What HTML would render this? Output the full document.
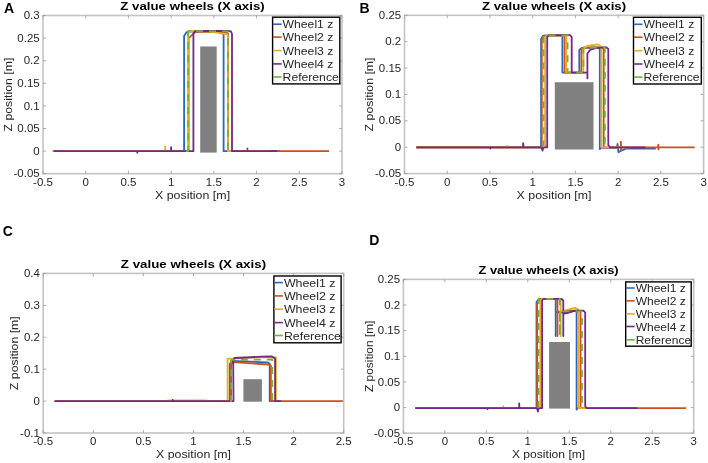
<!DOCTYPE html><html><head><meta charset="utf-8"><style>html,body{margin:0;padding:0;background:#fff;}svg{display:block;will-change:transform;}text{font-family:"Liberation Sans",sans-serif;}</style></head><body>
<svg width="708" height="463" viewBox="0 0 708 463">
<rect x="0" y="0" width="708" height="463" fill="#fff"/>
<rect x="200.2" y="46.5" width="16.5" height="106.1" fill="#808080"/>
<polyline points="53,151.2 184.1,151.2 184.1,36 186.7,32.1 190,31.3 220,31.8 223.6,34.3 223.6,151.2 247.4,151.2 247.4,148.5 247.6,151.2 280,151.2" fill="none" stroke="#2a66bf" stroke-width="1.8" stroke-linejoin="round" stroke-linecap="butt"/>
<polyline points="53,151.2 188.6,151.2 188.6,38.1 195.3,32.1 200,31.5 226,32 228,34 228,151.2 329,151.2" fill="none" stroke="#cc5018" stroke-width="1.8" stroke-linejoin="round" stroke-linecap="butt"/>
<polyline points="52.4,151.2 165.2,151.2 165.2,146.4 165.4,151.2 188.1,151.2 188.1,31.2 190,30.8 210,31.7 227.3,34.3 227.9,36 227.9,151.2 270,151.2" fill="none" stroke="#e6ae24" stroke-width="1.8" stroke-linejoin="round" stroke-linecap="butt"/>
<polyline points="53.6,151.2 137.3,151.2 137.3,152.8 137.5,151.2 171.1,151.2 171.1,147.1 171.3,151.2 193.4,151.2 193.4,33.5 195,31.2 198,31 228,30.8 231,31.5 232,34 232,151.2 277,151.2" fill="none" stroke="#72278a" stroke-width="1.8" stroke-linejoin="round" stroke-linecap="butt"/>
<polyline points="186,151.2 188.1,151.2 188.1,31.2 190,31 227.9,31.5 227.9,151.2 229,151.2" fill="none" stroke="#77b034" stroke-width="1.8" stroke-linejoin="round" stroke-linecap="butt" stroke-dasharray="7,6"/>
<rect x="43" y="15.5" width="299" height="158.2" fill="none" stroke="#c4c4c4" stroke-width="1.6"/>
<path d="M43,173.7v-3M43,15.5v3M85.71,173.7v-3M85.71,15.5v3M128.43,173.7v-3M128.43,15.5v3M171.14,173.7v-3M171.14,15.5v3M213.86,173.7v-3M213.86,15.5v3M256.57,173.7v-3M256.57,15.5v3M299.29,173.7v-3M299.29,15.5v3M342,173.7v-3M342,15.5v3M43,173.7h3M342,173.7h-3M43,151.1h3M342,151.1h-3M43,128.5h3M342,128.5h-3M43,105.9h3M342,105.9h-3M43,83.3h3M342,83.3h-3M43,60.7h3M342,60.7h-3M43,38.1h3M342,38.1h-3M43,15.5h3M342,15.5h-3" stroke="#9a9a9a" stroke-width="0.8" fill="none"/>
<text transform="translate(43,185.7) scale(1.1500,1)" font-size="10" fill="#262626" text-anchor="middle">-0.5</text>
<text transform="translate(85.71,185.7) scale(1.1500,1)" font-size="10" fill="#262626" text-anchor="middle">0</text>
<text transform="translate(128.43,185.7) scale(1.1500,1)" font-size="10" fill="#262626" text-anchor="middle">0.5</text>
<text transform="translate(171.14,185.7) scale(1.1500,1)" font-size="10" fill="#262626" text-anchor="middle">1</text>
<text transform="translate(213.86,185.7) scale(1.1500,1)" font-size="10" fill="#262626" text-anchor="middle">1.5</text>
<text transform="translate(256.57,185.7) scale(1.1500,1)" font-size="10" fill="#262626" text-anchor="middle">2</text>
<text transform="translate(299.29,185.7) scale(1.1500,1)" font-size="10" fill="#262626" text-anchor="middle">2.5</text>
<text transform="translate(342,185.7) scale(1.1500,1)" font-size="10" fill="#262626" text-anchor="middle">3</text>
<text transform="translate(39.7,177.3) scale(1.1500,1)" font-size="10" fill="#262626" text-anchor="end">-0.05</text>
<text transform="translate(39.7,154.7) scale(1.1500,1)" font-size="10" fill="#262626" text-anchor="end">0</text>
<text transform="translate(39.7,132.1) scale(1.1500,1)" font-size="10" fill="#262626" text-anchor="end">0.05</text>
<text transform="translate(39.7,109.5) scale(1.1500,1)" font-size="10" fill="#262626" text-anchor="end">0.1</text>
<text transform="translate(39.7,86.9) scale(1.1500,1)" font-size="10" fill="#262626" text-anchor="end">0.15</text>
<text transform="translate(39.7,64.3) scale(1.1500,1)" font-size="10" fill="#262626" text-anchor="end">0.2</text>
<text transform="translate(39.7,41.7) scale(1.1500,1)" font-size="10" fill="#262626" text-anchor="end">0.25</text>
<text transform="translate(39.7,19.1) scale(1.1500,1)" font-size="10" fill="#262626" text-anchor="end">0.3</text>
<text transform="translate(192.5,10.2) scale(1.2067,1)" font-size="11" font-weight="bold" fill="#000" text-anchor="middle">Z value wheels (X axis)</text>
<text transform="translate(192.5,198.6) scale(1.1825,1)" font-size="10.5" fill="#262626" text-anchor="middle">X position [m]</text>
<text transform="translate(11.7,94.6) rotate(-90) scale(1.1730,1)" font-size="10.5" fill="#262626" text-anchor="middle">Z position [m]</text>
<rect x="272.6" y="17.2" width="67.2" height="66.7" fill="#fff" stroke="#000" stroke-width="1.4"/>
<line x1="273.1" y1="24.2" x2="281.6" y2="24.2" stroke="#2a66bf" stroke-width="1.6"/>
<text transform="translate(282.6,28.2) scale(1.1600,1)" font-size="10.5" fill="#262626" text-anchor="start">Wheel1 z</text>
<line x1="273.1" y1="37.1" x2="281.6" y2="37.1" stroke="#cc5018" stroke-width="1.6"/>
<text transform="translate(282.6,41.1) scale(1.1600,1)" font-size="10.5" fill="#262626" text-anchor="start">Wheel2 z</text>
<line x1="273.1" y1="50.6" x2="281.6" y2="50.6" stroke="#e6ae24" stroke-width="1.6"/>
<text transform="translate(282.6,54.6) scale(1.1600,1)" font-size="10.5" fill="#262626" text-anchor="start">Wheel3 z</text>
<line x1="273.1" y1="63.9" x2="281.6" y2="63.9" stroke="#72278a" stroke-width="1.6"/>
<text transform="translate(282.6,67.9) scale(1.1600,1)" font-size="10.5" fill="#262626" text-anchor="start">Wheel4 z</text>
<line x1="273.1" y1="77" x2="281.6" y2="77" stroke="#77b034" stroke-width="1.6"/>
<text transform="translate(282.6,81) scale(1.1600,1)" font-size="10.5" fill="#262626" text-anchor="start">Reference</text>
<text x="4.1" y="12.9" font-size="14" font-weight="bold" fill="#000">A</text>
<rect x="554.8" y="82.2" width="38.7" height="67.3" fill="#808080"/>
<polyline points="416.3,147.3 541.1,147.3 541.1,39 543,35.6 562.4,35.5 562.4,72.6 579.3,72.6 579.3,50 582,47.8 598,47.5 599.8,49 599.8,149 601,147.8 617,147.8 617.5,144 618.5,152.3 620.5,151 626,148.6 655.8,148.6" fill="none" stroke="#2a66bf" stroke-width="1.8" stroke-linejoin="round" stroke-linecap="butt"/>
<polyline points="416.3,147.3 541.8,147.3 541.8,39.9 543.6,36.5 545,35.6 564.6,35.6 564.6,72.6 581.4,72.6 581.4,49 584,47.6 602,47.5 603.7,49 603.7,147.3 620.9,147.3 620.9,141.7 621,149.8 621.2,147.3 658.3,147.3 658.3,144.7 658.5,149.4 658.7,147.3 694.7,147.3" fill="none" stroke="#cc5018" stroke-width="1.8" stroke-linejoin="round" stroke-linecap="butt"/>
<polyline points="416.3,147.3 506.8,147.3 506.8,146 507.5,147.3 523.2,147.3 523.2,142.8 523.4,147.3 545.1,147.3 545.1,37 547,35.4 566.3,35.4 566.3,72.6 583.4,72.6 583.4,49 587,46 597.4,44.5 600,45.5 601.4,48 601.4,147.3 630,147.3" fill="none" stroke="#e6ae24" stroke-width="1.8" stroke-linejoin="round" stroke-linecap="butt"/>
<polyline points="416.3,147.3 490.4,147.3 490.4,148.6 490.6,147.3 523.2,147.3 523.2,143.5 523.4,147.3 541.5,147.3 542.5,150.6 543.5,147.3 547.2,147.3 547.2,37 549,35.2 570,35.2 571.7,37 571.7,72.6 587.4,72.6 587.4,78.4 587.4,53.5 590,50 595.4,48.1 606,47.1 608.3,49 608.3,145 610,147.3 645.5,147.3" fill="none" stroke="#72278a" stroke-width="1.8" stroke-linejoin="round" stroke-linecap="butt"/>
<polyline points="543.5,147.3 543.5,35.3 567.6,35.3 567.6,72.6 583.4,72.6 583.4,47.5 604.9,47.5 604.9,147.3 606,147.3" fill="none" stroke="#77b034" stroke-width="1.8" stroke-linejoin="round" stroke-linecap="butt" stroke-dasharray="7,6"/>
<rect x="404.5" y="15.3" width="299.1" height="158.3" fill="none" stroke="#c4c4c4" stroke-width="1.6"/>
<path d="M404.5,173.6v-3M404.5,15.3v3M447.23,173.6v-3M447.23,15.3v3M489.96,173.6v-3M489.96,15.3v3M532.69,173.6v-3M532.69,15.3v3M575.41,173.6v-3M575.41,15.3v3M618.14,173.6v-3M618.14,15.3v3M660.87,173.6v-3M660.87,15.3v3M703.6,173.6v-3M703.6,15.3v3M404.5,173.6h3M703.6,173.6h-3M404.5,147.22h3M703.6,147.22h-3M404.5,120.83h3M703.6,120.83h-3M404.5,94.45h3M703.6,94.45h-3M404.5,68.07h3M703.6,68.07h-3M404.5,41.68h3M703.6,41.68h-3M404.5,15.3h3M703.6,15.3h-3" stroke="#9a9a9a" stroke-width="0.8" fill="none"/>
<text transform="translate(404.5,185.6) scale(1.1500,1)" font-size="10" fill="#262626" text-anchor="middle">-0.5</text>
<text transform="translate(447.23,185.6) scale(1.1500,1)" font-size="10" fill="#262626" text-anchor="middle">0</text>
<text transform="translate(489.96,185.6) scale(1.1500,1)" font-size="10" fill="#262626" text-anchor="middle">0.5</text>
<text transform="translate(532.69,185.6) scale(1.1500,1)" font-size="10" fill="#262626" text-anchor="middle">1</text>
<text transform="translate(575.41,185.6) scale(1.1500,1)" font-size="10" fill="#262626" text-anchor="middle">1.5</text>
<text transform="translate(618.14,185.6) scale(1.1500,1)" font-size="10" fill="#262626" text-anchor="middle">2</text>
<text transform="translate(660.87,185.6) scale(1.1500,1)" font-size="10" fill="#262626" text-anchor="middle">2.5</text>
<text transform="translate(703.6,185.6) scale(1.1500,1)" font-size="10" fill="#262626" text-anchor="middle">3</text>
<text transform="translate(401.2,177.2) scale(1.1500,1)" font-size="10" fill="#262626" text-anchor="end">-0.05</text>
<text transform="translate(401.2,150.82) scale(1.1500,1)" font-size="10" fill="#262626" text-anchor="end">0</text>
<text transform="translate(401.2,124.43) scale(1.1500,1)" font-size="10" fill="#262626" text-anchor="end">0.05</text>
<text transform="translate(401.2,98.05) scale(1.1500,1)" font-size="10" fill="#262626" text-anchor="end">0.1</text>
<text transform="translate(401.2,71.67) scale(1.1500,1)" font-size="10" fill="#262626" text-anchor="end">0.15</text>
<text transform="translate(401.2,45.28) scale(1.1500,1)" font-size="10" fill="#262626" text-anchor="end">0.2</text>
<text transform="translate(401.2,18.9) scale(1.1500,1)" font-size="10" fill="#262626" text-anchor="end">0.25</text>
<text transform="translate(554.05,9.9) scale(1.2050,1)" font-size="11" font-weight="bold" fill="#000" text-anchor="middle">Z value wheels (X axis)</text>
<text transform="translate(554.05,198.6) scale(1.1778,1)" font-size="10.5" fill="#262626" text-anchor="middle">X position [m]</text>
<text transform="translate(373.2,94.45) rotate(-90) scale(1.1730,1)" font-size="10.5" fill="#262626" text-anchor="middle">Z position [m]</text>
<rect x="633.5" y="17.3" width="67.8" height="66.7" fill="#fff" stroke="#000" stroke-width="1.4"/>
<line x1="634" y1="24.3" x2="642.5" y2="24.3" stroke="#2a66bf" stroke-width="1.6"/>
<text transform="translate(643.5,28.3) scale(1.1600,1)" font-size="10.5" fill="#262626" text-anchor="start">Wheel1 z</text>
<line x1="634" y1="37.2" x2="642.5" y2="37.2" stroke="#cc5018" stroke-width="1.6"/>
<text transform="translate(643.5,41.2) scale(1.1600,1)" font-size="10.5" fill="#262626" text-anchor="start">Wheel2 z</text>
<line x1="634" y1="50.7" x2="642.5" y2="50.7" stroke="#e6ae24" stroke-width="1.6"/>
<text transform="translate(643.5,54.7) scale(1.1600,1)" font-size="10.5" fill="#262626" text-anchor="start">Wheel3 z</text>
<line x1="634" y1="64" x2="642.5" y2="64" stroke="#72278a" stroke-width="1.6"/>
<text transform="translate(643.5,68) scale(1.1600,1)" font-size="10.5" fill="#262626" text-anchor="start">Wheel4 z</text>
<line x1="634" y1="77.1" x2="642.5" y2="77.1" stroke="#77b034" stroke-width="1.6"/>
<text transform="translate(643.5,81.1) scale(1.1600,1)" font-size="10.5" fill="#262626" text-anchor="start">Reference</text>
<text x="359.4" y="13" font-size="14" font-weight="bold" fill="#000">B</text>
<rect x="243.4" y="379.2" width="18.5" height="22.5" fill="#808080"/>
<polyline points="54.7,401.1 229.8,401.1 229.8,364 232,360.8 268,362.5 269.7,364 269.7,401.1 280,401.1" fill="none" stroke="#2a66bf" stroke-width="1.8" stroke-linejoin="round" stroke-linecap="butt"/>
<polyline points="54.7,401.1 231.1,401.1 231.1,364 233,362.1 268,364.5 270.9,365.5 270.9,401.1 343,401.1" fill="none" stroke="#cc5018" stroke-width="1.8" stroke-linejoin="round" stroke-linecap="butt"/>
<polyline points="54.7,401.1 163,401.1 170,400.5 205,400.5 211.6,401.1 227.6,401.1 227.6,358.6 233.2,358.6 262,357 275.9,357.5 275.9,401.1 281,401.1" fill="none" stroke="#e6ae24" stroke-width="1.8" stroke-linejoin="round" stroke-linecap="butt"/>
<polyline points="54.7,401.1 172.7,401.1 172.7,400 172.9,401.1 233.5,401.1 233.2,360 234.5,358 262,356.7 272,356.5 275.1,358.5 275.1,401.1 281.1,401.1" fill="none" stroke="#72278a" stroke-width="1.8" stroke-linejoin="round" stroke-linecap="butt"/>
<polyline points="230,401.1 231.1,401.1 231.1,359.9 272.3,359.5 272.3,401.1 273.5,401.1" fill="none" stroke="#77b034" stroke-width="1.8" stroke-linejoin="round" stroke-linecap="butt" stroke-dasharray="7,6"/>
<rect x="43.2" y="273.4" width="300.5" height="159.6" fill="none" stroke="#c4c4c4" stroke-width="1.6"/>
<path d="M43.2,433v-3M43.2,273.4v3M93.28,433v-3M93.28,273.4v3M143.37,433v-3M143.37,273.4v3M193.45,433v-3M193.45,273.4v3M243.53,433v-3M243.53,273.4v3M293.62,433v-3M293.62,273.4v3M343.7,433v-3M343.7,273.4v3M43.2,433h3M343.7,433h-3M43.2,401.08h3M343.7,401.08h-3M43.2,369.16h3M343.7,369.16h-3M43.2,337.24h3M343.7,337.24h-3M43.2,305.32h3M343.7,305.32h-3M43.2,273.4h3M343.7,273.4h-3" stroke="#9a9a9a" stroke-width="0.8" fill="none"/>
<text transform="translate(43.2,445) scale(1.1500,1)" font-size="10" fill="#262626" text-anchor="middle">-0.5</text>
<text transform="translate(93.28,445) scale(1.1500,1)" font-size="10" fill="#262626" text-anchor="middle">0</text>
<text transform="translate(143.37,445) scale(1.1500,1)" font-size="10" fill="#262626" text-anchor="middle">0.5</text>
<text transform="translate(193.45,445) scale(1.1500,1)" font-size="10" fill="#262626" text-anchor="middle">1</text>
<text transform="translate(243.53,445) scale(1.1500,1)" font-size="10" fill="#262626" text-anchor="middle">1.5</text>
<text transform="translate(293.62,445) scale(1.1500,1)" font-size="10" fill="#262626" text-anchor="middle">2</text>
<text transform="translate(343.7,445) scale(1.1500,1)" font-size="10" fill="#262626" text-anchor="middle">2.5</text>
<text transform="translate(39.9,436.6) scale(1.1500,1)" font-size="10" fill="#262626" text-anchor="end">-0.1</text>
<text transform="translate(39.9,404.68) scale(1.1500,1)" font-size="10" fill="#262626" text-anchor="end">0</text>
<text transform="translate(39.9,372.76) scale(1.1500,1)" font-size="10" fill="#262626" text-anchor="end">0.1</text>
<text transform="translate(39.9,340.84) scale(1.1500,1)" font-size="10" fill="#262626" text-anchor="end">0.2</text>
<text transform="translate(39.9,308.92) scale(1.1500,1)" font-size="10" fill="#262626" text-anchor="end">0.3</text>
<text transform="translate(39.9,277) scale(1.1500,1)" font-size="10" fill="#262626" text-anchor="end">0.4</text>
<text transform="translate(193.45,268.3) scale(1.2126,1)" font-size="11" font-weight="bold" fill="#000" text-anchor="middle">Z value wheels (X axis)</text>
<text transform="translate(193.45,457.6) scale(1.1778,1)" font-size="10.5" fill="#262626" text-anchor="middle">X position [m]</text>
<text transform="translate(17.9,353.2) rotate(-90) scale(1.1730,1)" font-size="10.5" fill="#262626" text-anchor="middle">Z position [m]</text>
<rect x="273.9" y="276" width="67.2" height="66.8" fill="#fff" stroke="#000" stroke-width="1.4"/>
<line x1="274.4" y1="282.6" x2="282.9" y2="282.6" stroke="#2a66bf" stroke-width="1.6"/>
<text transform="translate(283.9,286.6) scale(1.1800,1)" font-size="10.5" fill="#262626" text-anchor="start">Wheel1 z</text>
<line x1="274.4" y1="295.9" x2="282.9" y2="295.9" stroke="#cc5018" stroke-width="1.6"/>
<text transform="translate(283.9,299.9) scale(1.1800,1)" font-size="10.5" fill="#262626" text-anchor="start">Wheel2 z</text>
<line x1="274.4" y1="309.2" x2="282.9" y2="309.2" stroke="#e6ae24" stroke-width="1.6"/>
<text transform="translate(283.9,313.2) scale(1.1800,1)" font-size="10.5" fill="#262626" text-anchor="start">Wheel3 z</text>
<line x1="274.4" y1="322.6" x2="282.9" y2="322.6" stroke="#72278a" stroke-width="1.6"/>
<text transform="translate(283.9,326.6) scale(1.1800,1)" font-size="10.5" fill="#262626" text-anchor="start">Wheel4 z</text>
<line x1="274.4" y1="335.5" x2="282.9" y2="335.5" stroke="#77b034" stroke-width="1.6"/>
<text transform="translate(283.9,339.5) scale(1.1800,1)" font-size="10.5" fill="#262626" text-anchor="start">Reference</text>
<text x="2.7" y="236" font-size="14" font-weight="bold" fill="#000">C</text>
<rect x="549.1" y="342" width="20.9" height="66.6" fill="#808080"/>
<polyline points="415.3,408.1 536.5,408.1 536.5,302 539,298.8 555.7,298.8 555.7,336 555.7,312 558,312 565,313 573.6,311 576.6,311.2 576.6,409.6 578,408.1 600,408.1" fill="none" stroke="#2a66bf" stroke-width="1.8" stroke-linejoin="round" stroke-linecap="butt"/>
<polyline points="415.3,408.1 537.1,408.1 537.1,303.8 539,300.5 542,298.8 557.5,298.8 557.5,336 557.5,311.8 565,311 574,310.6 580.5,310.8 580.5,408.1 686,408.1" fill="none" stroke="#cc5018" stroke-width="1.8" stroke-linejoin="round" stroke-linecap="butt"/>
<polyline points="415.3,408.1 503.4,408.1 503.4,406.5 503.6,408.1 540.4,408.1 540.4,300.5 542,298.8 560.7,298.8 560.7,336 560.7,311.5 570,309 575.7,308 577.9,309.3 578.5,311 578.5,408.1 600,408.1" fill="none" stroke="#e6ae24" stroke-width="1.8" stroke-linejoin="round" stroke-linecap="butt"/>
<polyline points="415.3,408.1 487.6,408.1 487.6,409.2 487.8,408.1 519.2,408.1 519.2,403.3 519.4,408.1 537,408.1 537.9,411.6 538.8,408.1 542.1,408.1 542.1,300.5 543.5,298.8 561.5,298.8 563.3,300.5 563.3,336 563.3,313.6 568,313 573.6,311 577,310.6 583.5,310.6 585.2,312.5 585.2,406 586.5,408.1 637.4,408.1" fill="none" stroke="#72278a" stroke-width="1.8" stroke-linejoin="round" stroke-linecap="butt"/>
<polyline points="538.6,408.1 538.6,298.8 559.8,298.8 559.8,336 559.8,311.4 582,311.4 582,408.1 583,408.1" fill="none" stroke="#77b034" stroke-width="1.8" stroke-linejoin="round" stroke-linecap="butt" stroke-dasharray="7,6"/>
<rect x="403.4" y="279.4" width="290.3" height="153.8" fill="none" stroke="#c4c4c4" stroke-width="1.6"/>
<path d="M403.4,433.2v-3M403.4,279.4v3M444.87,433.2v-3M444.87,279.4v3M486.34,433.2v-3M486.34,279.4v3M527.81,433.2v-3M527.81,279.4v3M569.29,433.2v-3M569.29,279.4v3M610.76,433.2v-3M610.76,279.4v3M652.23,433.2v-3M652.23,279.4v3M693.7,433.2v-3M693.7,279.4v3M403.4,433.2h3M693.7,433.2h-3M403.4,407.57h3M693.7,407.57h-3M403.4,381.93h3M693.7,381.93h-3M403.4,356.3h3M693.7,356.3h-3M403.4,330.67h3M693.7,330.67h-3M403.4,305.03h3M693.7,305.03h-3M403.4,279.4h3M693.7,279.4h-3" stroke="#9a9a9a" stroke-width="0.8" fill="none"/>
<text transform="translate(403.4,445.2) scale(1.1500,1)" font-size="10" fill="#262626" text-anchor="middle">-0.5</text>
<text transform="translate(444.87,445.2) scale(1.1500,1)" font-size="10" fill="#262626" text-anchor="middle">0</text>
<text transform="translate(486.34,445.2) scale(1.1500,1)" font-size="10" fill="#262626" text-anchor="middle">0.5</text>
<text transform="translate(527.81,445.2) scale(1.1500,1)" font-size="10" fill="#262626" text-anchor="middle">1</text>
<text transform="translate(569.29,445.2) scale(1.1500,1)" font-size="10" fill="#262626" text-anchor="middle">1.5</text>
<text transform="translate(610.76,445.2) scale(1.1500,1)" font-size="10" fill="#262626" text-anchor="middle">2</text>
<text transform="translate(652.23,445.2) scale(1.1500,1)" font-size="10" fill="#262626" text-anchor="middle">2.5</text>
<text transform="translate(693.7,445.2) scale(1.1500,1)" font-size="10" fill="#262626" text-anchor="middle">3</text>
<text transform="translate(400.1,436.8) scale(1.1500,1)" font-size="10" fill="#262626" text-anchor="end">-0.05</text>
<text transform="translate(400.1,411.17) scale(1.1500,1)" font-size="10" fill="#262626" text-anchor="end">0</text>
<text transform="translate(400.1,385.53) scale(1.1500,1)" font-size="10" fill="#262626" text-anchor="end">0.05</text>
<text transform="translate(400.1,359.9) scale(1.1500,1)" font-size="10" fill="#262626" text-anchor="end">0.1</text>
<text transform="translate(400.1,334.27) scale(1.1500,1)" font-size="10" fill="#262626" text-anchor="end">0.15</text>
<text transform="translate(400.1,308.63) scale(1.1500,1)" font-size="10" fill="#262626" text-anchor="end">0.2</text>
<text transform="translate(400.1,283) scale(1.1500,1)" font-size="10" fill="#262626" text-anchor="end">0.25</text>
<text transform="translate(548.55,274.4) scale(1.1706,1)" font-size="11" font-weight="bold" fill="#000" text-anchor="middle">Z value wheels (X axis)</text>
<text transform="translate(548.55,457.6) scale(1.1540,1)" font-size="10.5" fill="#262626" text-anchor="middle">X position [m]</text>
<text transform="translate(373.3,356.3) rotate(-90) scale(1.1349,1)" font-size="10.5" fill="#262626" text-anchor="middle">Z position [m]</text>
<rect x="625.7" y="281.9" width="65.5" height="64.3" fill="#fff" stroke="#000" stroke-width="1.4"/>
<line x1="626.2" y1="288" x2="634.7" y2="288" stroke="#2a66bf" stroke-width="1.6"/>
<text transform="translate(635.7,292) scale(1.1450,1)" font-size="10.5" fill="#262626" text-anchor="start">Wheel1 z</text>
<line x1="626.2" y1="300.9" x2="634.7" y2="300.9" stroke="#cc5018" stroke-width="1.6"/>
<text transform="translate(635.7,304.9) scale(1.1450,1)" font-size="10.5" fill="#262626" text-anchor="start">Wheel2 z</text>
<line x1="626.2" y1="313.9" x2="634.7" y2="313.9" stroke="#e6ae24" stroke-width="1.6"/>
<text transform="translate(635.7,317.9) scale(1.1450,1)" font-size="10.5" fill="#262626" text-anchor="start">Wheel3 z</text>
<line x1="626.2" y1="326.5" x2="634.7" y2="326.5" stroke="#72278a" stroke-width="1.6"/>
<text transform="translate(635.7,330.5) scale(1.1450,1)" font-size="10.5" fill="#262626" text-anchor="start">Wheel4 z</text>
<line x1="626.2" y1="339.8" x2="634.7" y2="339.8" stroke="#77b034" stroke-width="1.6"/>
<text transform="translate(635.7,343.8) scale(1.1450,1)" font-size="10.5" fill="#262626" text-anchor="start">Reference</text>
<text x="369.2" y="245" font-size="14" font-weight="bold" fill="#000">D</text>
</svg></body></html>
